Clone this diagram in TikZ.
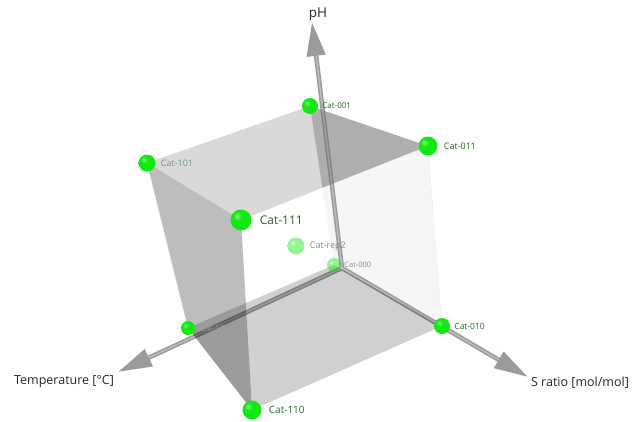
\documentclass[tikz,border=0pt]{standalone}
\usepackage{fontspec}
\setmainfont{Open Sans}
\usetikzlibrary{positioning, arrows.meta}

\definecolor{catgreen}{RGB}{20,232,20}
\definecolor{catlight}{RGB}{130,255,130}
\definecolor{catdark}{RGB}{0,150,0}
\definecolor{labgreen}{RGB}{40,100,40}
\definecolor{dimgreen}{RGB}{120,150,120}
\definecolor{rodgray}{RGB}{155,155,155}

\pgfdeclareradialshading{catball}{\pgfpoint{-10bp}{10bp}}{%
  color(0bp)=(catlight); color(10bp)=(catgreen); color(38bp)=(catgreen);
  color(54bp)=(catdark); color(70bp)=(catdark)}

\begin{document}
\begin{tikzpicture}[
    x=1pt, y=-1pt,
    sphere/.style={circle, inner sep=0pt, shading=catball},
    dimsphere/.style={sphere, opacity=0.45},
    lab/.style={inner sep=1pt, font=\fontsize{8.5}{10}\selectfont, text=labgreen},
    dimlab/.style={lab, text=dimgreen},
    axlab/.style={inner sep=0pt, font=\fontsize{12.5}{15}\selectfont, text=black!85},
    rod/.style={line width=4.5pt, draw=rodgray, -{Triangle[length=34pt,width=18pt]}},
    rodlight/.style={line width=1.4pt, draw=white, opacity=0.35, shorten >=34pt}
]
    \useasboundingbox (0,0) rectangle (638,421);

    % Cube corners
    \coordinate (v001) at (310,106);
    \coordinate (v011) at (428,146);
    \coordinate (v101) at (147,163);
    \coordinate (v111) at (241,220);
    \coordinate (v000) at (334,265);
    \coordinate (v100) at (188,328);
    \coordinate (v010) at (442,326);
    \coordinate (v110) at (252,410);

    % Axes
    \coordinate (origin) at (342,268);
    \coordinate (phtip) at (312,22);
    \coordinate (temptip) at (118,372);
    \coordinate (stip) at (528,377);

    % Back faces
    \fill[black, fill opacity=0.2] (v000) -- (v001) -- (v011) -- (v010) -- cycle;
    \fill[white, fill opacity=0.85] (v111) -- (v011) -- (v010) -- (v110) -- cycle;

    \draw[rod] (origin) -- (phtip);
    \draw[rod] (origin) -- (temptip);
    \draw[rod] (origin) -- (stip);
    \draw[rodlight] (origin) -- (phtip);
    \draw[rodlight] (origin) -- (temptip);
    \draw[rodlight] (origin) -- (stip);

    % Front faces
    \fill[black, fill opacity=0.15] (v101) -- (v001) -- (v011) -- (v111) -- cycle;
    \fill[black, fill opacity=0.18] (v000) -- (v100) -- (v110) -- (v010) -- cycle;
    \fill[black, fill opacity=0.26] (v101) -- (v111) -- (v110) -- (v100) -- cycle;

    % Catalysts
    \node[dimsphere, minimum size=14pt] (c000) at (v000) {};
    \node[dimsphere, minimum size=17pt] (rep2) at (296,246) {};
    \node[sphere, minimum size=14pt] (c100) at (v100) {};
    \node[sphere, minimum size=17pt] (c101) at (v101) {};
    \node[sphere, minimum size=16pt] (c001) at (v001) {};
    \node[sphere, minimum size=19pt] (c011) at (v011) {};
    \node[sphere, minimum size=16pt] (c010) at (v010) {};
    \node[sphere, minimum size=21pt] (c111) at (v111) {};
    \node[sphere, minimum size=19pt] (c110) at (v110) {};

    \node[dimlab, font=\fontsize{7.5}{9}\selectfont, right=2pt of c000] {Cat-000};
    \node[dimlab, font=\fontsize{9}{10}\selectfont, right=4pt of rep2] {Cat-rep2};
    \node[dimlab, text=black!40, right=3pt of c100] {Cat-100};
    \node[dimlab, font=\fontsize{9}{10}\selectfont, right=4pt of c101] {Cat-101};
    \node[lab, font=\fontsize{8}{9}\selectfont, right=3pt of c001] {Cat-001};
    \node[lab, font=\fontsize{9}{10}\selectfont, right=5pt of c011] {Cat-011};
    \node[lab, right=3pt of c010] {Cat-010};
    \node[lab, font=\fontsize{12}{14}\selectfont, right=7pt of c111] {Cat-111};
    \node[lab, font=\fontsize{10}{12}\selectfont, right=6pt of c110] {Cat-110};

    % Axis labels
    \node[axlab, font=\fontsize{13.5}{16}\selectfont] (phlab) at (318,14) {pH};
    \node[axlab] (templab) at (64,381) {Temperature [°C]};
    \node[axlab] (slab) at (580,383) {S ratio [mol/mol]};
\end{tikzpicture}
\end{document}
